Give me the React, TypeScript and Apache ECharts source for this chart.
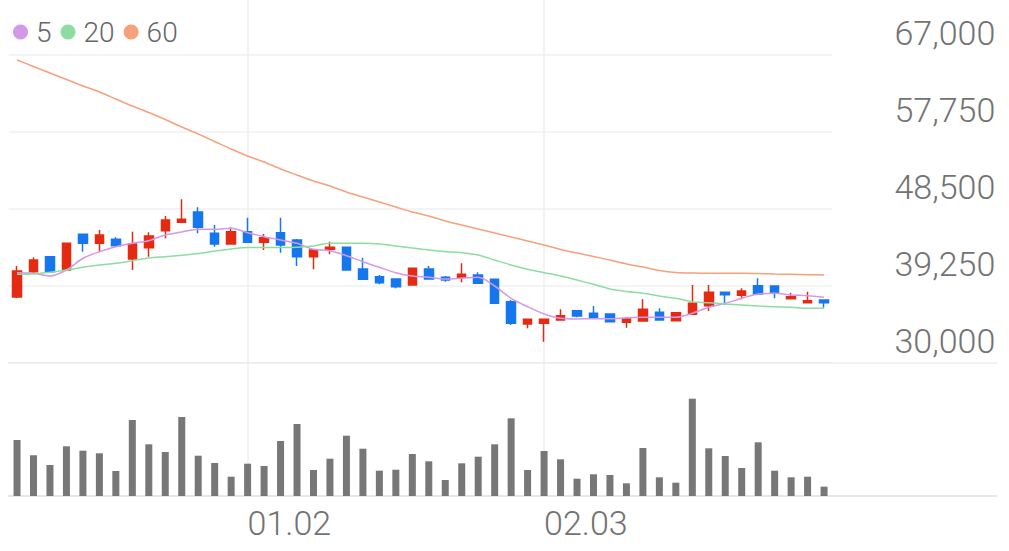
import React, { useEffect, useRef } from "react";
import * as echarts from "echarts";

const dates = ['12.10','12.11','12.12','12.13','12.16','12.17','12.18','12.19','12.20','12.23','12.24','12.26','12.27','12.30','01.02','01.03','01.06','01.07','01.08','01.09','01.10','01.13','01.14','01.15','01.16','01.17','01.20','01.21','01.22','01.23','01.24','01.31','02.03','02.04','02.05','02.06','02.07','02.10','02.11','02.12','02.13','02.14','02.17','02.18','02.19','02.20','02.21','02.24','02.25','02.26'];

const openP = [37930,40970,42770,41170,45460,44380,44860,42490,43850,45890,46900,48140,45580,44300,45770,44500,45650,44780,42770,43660,43900,41290,40370,40090,39370,41290,40300,40300,40570,40060,37360,34690,34770,35170,36280,35970,35890,34890,35050,36090,35080,35850,36880,38490,38130,39290,39250,37720,37240,37570];
const closeP = [41050,42370,40970,44380,44380,45380,44090,44300,45260,47180,47260,46300,44300,45770,44500,45050,44180,42770,43570,43900,41170,40060,39650,39170,41380,40090,39970,40660,39570,37170,34770,35250,35250,35680,35650,35490,34960,35290,36450,35170,36040,37170,38490,38210,38650,38290,38450,37960,37480,37240];
const lowP = [37810,40690,40870,41050,43370,43370,43970,41170,42770,44980,46880,45580,43970,44240,44420,43570,43250,41650,41260,43060,41110,40000,39450,38970,39330,40030,39770,39690,39510,37110,34570,34170,32560,35110,35490,35430,34930,34240,34990,35110,35050,35800,36250,36970,37650,38230,37770,37650,37210,36640];
const highP = [41650,42700,42850,44450,45500,45980,45100,45770,45700,47660,49670,48700,46580,46300,47450,45500,47450,44900,43630,44570,44000,42650,40570,40150,41410,41650,40450,41980,40900,40090,37570,35290,35290,36450,36330,36850,35950,35490,37650,36570,36090,39370,39370,38530,38970,40180,39310,38450,38570,37630];

const volumeK = [560,407,310,497,453,427,250,760,517,440,790,403,330,193,323,300,550,720,260,373,603,473,253,263,420,347,160,327,393,517,777,260,450,367,173,217,210,127,480,187,133,973,477,400,280,537,253,187,193,93];

const ma5 = [40850,40780,40450,41170,42580,43370,43970,44380,44690,45380,45740,46060,46060,46180,45650,45170,44780,44380,43660,43490,42890,42170,41500,40850,40450,40300,40090,40180,40300,39250,37770,36760,35890,35370,35290,35320,35320,35440,35490,35490,35490,35970,36690,37170,37770,38290,38370,38170,38090,37890];
const ma20 = [40660,40690,40900,41170,41500,41770,41980,42290,42610,42770,42940,43150,43450,43700,43880,43880,43880,43900,44060,44380,44380,44380,44300,44060,43820,43570,43370,43250,42970,42370,41770,41260,40850,40450,39970,39450,38890,38590,38370,38050,37770,37360,37240,37090,36970,36850,36760,36690,36570,36570];
const ma60 = [66400,65620,64840,64060,63280,62560,61710,60870,60090,59250,58350,57510,56610,55710,54870,54150,53310,52580,51860,51260,50540,49940,49340,48740,48140,47660,47060,46580,46100,45620,45140,44660,44180,43630,43210,42790,42370,41890,41530,41110,40870,40810,40780,40780,40780,40750,40690,40660,40610,40570];

const priceTicks = [30000, 39250, 48500, 57750, 67000];

const fmt = (v: number) => String(v).replace(/\B(?=(\d{3})+(?!\d))/g, ",");

const FONT = "Roboto";
const GRID_LEFT = 8.8;
const GRID_W = 823.5;

export default function App() {
  const ref = useRef<HTMLDivElement>(null);
  useEffect(() => {
    if (!ref.current) return;
    const chart = echarts.init(ref.current, undefined, { renderer: "svg" });
    const monthStarts = dates
      .map((d, i) => (i > 0 && d.slice(0, 2) !== dates[i - 1].slice(0, 2) ? i : -1))
      .filter((i) => i >= 0);
    const candles = dates.map((_, i) => [openP[i], closeP[i], lowP[i], highP[i]]);
    const n = dates.length;

    chart.setOption({
      animation: false,
      textStyle: { fontFamily: FONT, fontWeight: 300 },
      legend: {
        left: 8,
        top: 13,
        itemWidth: 15,
        itemHeight: 15,
        itemGap: 9,
        icon: "circle",
        data: ["5", "20", "60"],
        textStyle: { fontSize: 28, color: "#666", fontFamily: FONT, fontWeight: 300, padding: [0, 0, 0, 3] },
        selectedMode: false,
      },
      grid: [
        { left: GRID_LEFT, top: 55, width: GRID_W, height: 308 },
        { left: GRID_LEFT, top: 396, width: GRID_W, height: 100 },
        { left: GRID_LEFT, top: 0, width: GRID_W, height: 496 },
      ],
      xAxis: [
        {
          type: "category", gridIndex: 0, data: dates, boundaryGap: true,
          axisLine: { show: false }, axisTick: { show: false }, axisLabel: { show: false }, splitLine: { show: false },
        },
        {
          type: "category", gridIndex: 1, data: dates, boundaryGap: true,
          axisLine: { show: false }, axisTick: { show: false }, axisLabel: { show: false }, splitLine: { show: false },
        },
        {
          type: "value", gridIndex: 2, min: -0.5, max: n - 0.5,
          axisLine: { show: false },
          axisTick: { show: false, customValues: monthStarts },
          axisLabel: {
            show: true,
            customValues: monthStarts,
            formatter: (v: number) => dates[Math.round(v)],
            fontSize: 34,
            color: "#727272",
            fontFamily: FONT,
            fontWeight: 300,
            align: "left",
            margin: 10,
          },
          splitLine: { show: true, lineStyle: { color: "#efefef", width: 1.5 } },
        },
      ],
      yAxis: [
        {
          type: "value", gridIndex: 0, position: "right", min: 30000, max: 67000,
          axisLine: { show: false },
          axisTick: { show: false, customValues: priceTicks },
          axisLabel: {
            customValues: priceTicks,
            formatter: (v: number) => fmt(v),
            fontSize: 34,
            color: "#727272",
            fontFamily: FONT,
            fontWeight: 300,
            align: "right",
            verticalAlign: "bottom",
            lineHeight: 34,
            padding: [0, 0, 5, 0],
            margin: 163,
          },
          splitLine: { show: true, lineStyle: { color: "#f0f0f0", width: 1.5 } },
        },
        {
          type: "value", gridIndex: 1, min: 0, max: 1000, show: false,
          splitLine: { show: false },
        },
        {
          type: "value", gridIndex: 2, min: 0, max: 1, show: false,
          splitLine: { show: false },
        },
      ],
      graphic: [
        { type: "line", shape: { x1: 8, y1: 363, x2: 997, y2: 363 }, style: { stroke: "#ececec", lineWidth: 1.5 }, z: 1 },
        { type: "line", shape: { x1: 8, y1: 496, x2: 997, y2: 496 }, style: { stroke: "#e6e6e6", lineWidth: 2 }, z: 1 },
      ],
      series: [
        {
          name: "price", type: "candlestick", xAxisIndex: 0, yAxisIndex: 0, data: candles,
          barWidth: 9,
          itemStyle: {
            color: "#E42B12", color0: "#1477EE",
            borderColor: "#E42B12", borderColor0: "#1477EE", borderWidth: 1.5,
          },
          z: 3,
        },
        {
          name: "5", type: "line", xAxisIndex: 0, yAxisIndex: 0, data: ma5,
          smooth: 0.3, showSymbol: false, symbol: "circle",
          lineStyle: { color: "#D597EA", width: 1.5 }, itemStyle: { color: "#D597EA" }, z: 4,
        },
        {
          name: "20", type: "line", xAxisIndex: 0, yAxisIndex: 0, data: ma20,
          smooth: 0.3, showSymbol: false, symbol: "circle",
          lineStyle: { color: "#8DDCA2", width: 1.5 }, itemStyle: { color: "#8DDCA2" }, z: 4,
        },
        {
          name: "60", type: "line", xAxisIndex: 0, yAxisIndex: 0, data: ma60,
          smooth: 0.3, showSymbol: false, symbol: "circle",
          lineStyle: { color: "#F6A07C", width: 1.5 }, itemStyle: { color: "#F6A07C" }, z: 4,
        },
        {
          name: "volume", type: "bar", xAxisIndex: 1, yAxisIndex: 1, data: volumeK,
          barWidth: 7, itemStyle: { color: "#777777" },
        },
      ],
    });
    return () => chart.dispose();
  }, []);
  return (
    <div
      ref={ref}
      style={{ position: "absolute", left: 0, top: 0, width: 1009, height: 551 }}
    />
  );
}
